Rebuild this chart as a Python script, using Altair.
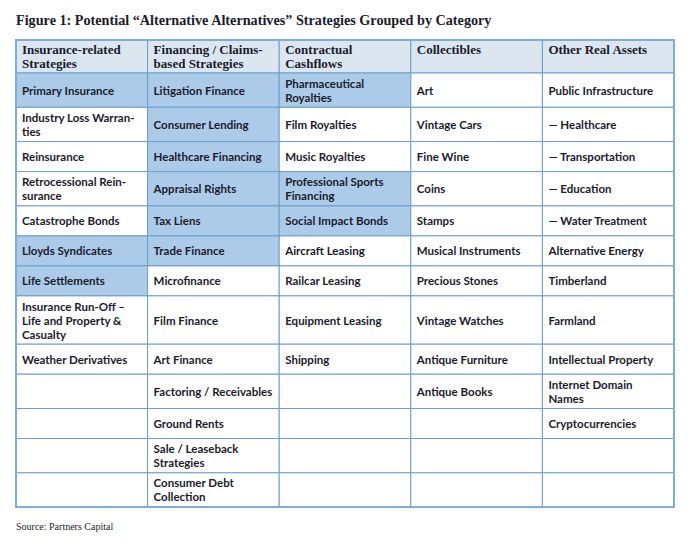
import altair as alt
import pandas as pd

# ---------------- data ----------------
title_text = "Figure 1: Potential \u201cAlternative Alternatives\u201d Strategies Grouped by Category"
source_text = "Source: Partners Capital"

headers = [
    "Insurance-related\nStrategies",
    "Financing / Claims-\nbased Strategies",
    "Contractual\nCashflows",
    "Collectibles",
    "Other Real Assets",
]

insurance = [
    "Primary Insurance", "Industry Loss Warran-\nties", "Reinsurance",
    "Retrocessional Rein-\nsurance", "Catastrophe Bonds", "Lloyds Syndicates",
    "Life Settlements", "Insurance Run-Off \u2013\nLife and Property &\nCasualty",
    "Weather Derivatives", "", "", "", "",
]
financing = [
    "Litigation Finance", "Consumer Lending", "Healthcare Financing",
    "Appraisal Rights", "Tax Liens", "Trade Finance", "Microfinance",
    "Film Finance", "Art Finance", "Factoring / Receivables", "Ground Rents",
    "Sale / Leaseback\nStrategies", "Consumer Debt\nCollection",
]
contractual = [
    "Pharmaceutical\nRoyalties", "Film Royalties", "Music Royalties",
    "Professional Sports\nFinancing", "Social Impact Bonds", "Aircraft Leasing",
    "Railcar Leasing", "Equipment Leasing", "Shipping", "", "", "", "",
]
collectibles = [
    "Art", "Vintage Cars", "Fine Wine", "Coins", "Stamps",
    "Musical Instruments", "Precious Stones", "Vintage Watches",
    "Antique Furniture", "Antique Books", "", "", "",
]
real_assets = [
    "Public Infrastructure", "\u2014 Healthcare", "\u2014 Transportation",
    "\u2014 Education", "\u2014 Water Treatment", "Alternative Energy",
    "Timberland", "Farmland", "Intellectual Property",
    "Internet Domain\nNames", "Cryptocurrencies", "", "",
]

# highlighted (shaded) cells per column
hl_insurance = [1, 0, 0, 0, 0, 1, 1, 0, 0, 0, 0, 0, 0]
hl_financing = [1, 1, 1, 1, 1, 1, 0, 0, 0, 0, 0, 0, 0]
hl_contractual = [1, 0, 0, 1, 1, 0, 0, 0, 0, 0, 0, 0, 0]
hl_collectibles = [0] * 13
hl_real_assets = [0] * 13

columns = [insurance, financing, contractual, collectibles, real_assets]
highlights = [hl_insurance, hl_financing, hl_contractual, hl_collectibles, hl_real_assets]

# ---------------- layout ----------------
W, H = 677, 526
TABLE_LEFT, TABLE_RIGHT = 8, 666
TABLE_TOP = 32
HEADER_H = 33
ROW_H = {1: 30, 2: 34.3, 3: 48.3}
LINE_H = 14
PAD_X = 6

col_w = (TABLE_RIGHT - TABLE_LEFT) / len(headers)
n_rows = len(insurance)

cells = []
texts = []
for c, h in enumerate(headers):
    x0 = TABLE_LEFT + c * col_w
    cells.append(dict(x=x0, x2=x0 + col_w, y=TABLE_TOP, y2=TABLE_TOP + HEADER_H, kind="header"))
y = TABLE_TOP + HEADER_H
for r in range(n_rows):
    lines = max(col[r].count("\n") + 1 for col in columns)
    h = ROW_H[lines]
    for c, col in enumerate(columns):
        x0 = TABLE_LEFT + c * col_w
        kind = "hl" if highlights[c][r] else "plain"
        cells.append(dict(x=x0, x2=x0 + col_w, y=y, y2=y + h, kind=kind))
        if col[r]:
            n = col[r].count("\n") + 1
            texts.append(dict(x=x0, y=y + h / 2 - (n - 1) * LINE_H / 2, text=col[r]))
    y += h
table_bottom = y

cells_df = pd.DataFrame(cells)
texts_df = pd.DataFrame(texts)
head_df = pd.DataFrame(
    [dict(x=TABLE_LEFT + c * col_w, y=TABLE_TOP, text=h) for c, h in enumerate(headers)]
)
frame_df = pd.DataFrame([dict(x=TABLE_LEFT, x2=TABLE_RIGHT, y=TABLE_TOP, y2=table_bottom)])
title_df = pd.DataFrame([dict(x=TABLE_LEFT, y=13, text=title_text)])
source_df = pd.DataFrame([dict(x=TABLE_LEFT, y=519, text=source_text)])

xs = alt.Scale(domain=[0, W], nice=False, zero=False)
ys = alt.Scale(domain=[0, H], nice=False, zero=False, reverse=True)
X = lambda f="x": alt.X(f"{f}:Q", scale=xs, axis=None)
Y = lambda f="y": alt.Y(f"{f}:Q", scale=ys, axis=None)

BORDER = "#6a9fcc"
TEXT = "#1b1b2b"

rects = alt.Chart(cells_df).mark_rect(stroke=BORDER, strokeWidth=1).encode(
    x=X(), x2="x2:Q", y=Y(), y2="y2:Q",
    fill=alt.Fill("kind:N", legend=None,
                  scale=alt.Scale(domain=["header", "hl", "plain"],
                                  range=["#dce6f0", "#abcbe8", "#ffffff"])),
)

frame = alt.Chart(frame_df).mark_rect(fill=None, stroke="#7eaed6", strokeWidth=2).encode(
    x=X(), x2="x2:Q", y=Y(), y2="y2:Q"
)

body = alt.Chart(texts_df).mark_text(
    align="left", baseline="middle", dx=PAD_X, dy=1.5, lineBreak="\n",
    font="Lato", fontWeight="bold", fontSize=11.5, lineHeight=LINE_H, color=TEXT,
).encode(x=X(), y=Y(), text="text:N")

head = alt.Chart(head_df).mark_text(
    align="left", baseline="top", dx=PAD_X, dy=4, lineBreak="\n",
    font="Liberation Serif", fontWeight="bold", fontSize=13, lineHeight=LINE_H, color=TEXT,
).encode(x=X(), y=Y(), text="text:N")

title = alt.Chart(title_df).mark_text(
    align="left", baseline="middle",
    font="Liberation Serif", fontWeight="bold", fontSize=14.2, color=TEXT,
).encode(x=X(), y=Y(), text="text:N")

source = alt.Chart(source_df).mark_text(
    align="left", baseline="middle",
    font="Liberation Serif", fontSize=10, color=TEXT,
).encode(x=X(), y=Y(), text="text:N")

chart = alt.layer(rects, frame, body, head, title, source).properties(
    width=W, height=H, padding=0,
    autosize=alt.AutoSizeParams(type="none"),
).configure_view(stroke=None)

chart.save("out.html", embed_options={"renderer": "svg", "actions": False})
